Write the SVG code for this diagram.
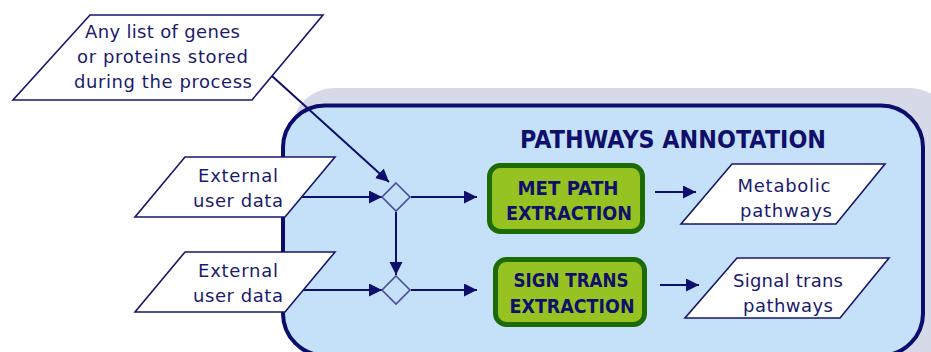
<svg xmlns="http://www.w3.org/2000/svg" width="931" height="352" viewBox="0 0 931 352">
  <style>
    .io { fill: #ffffff; stroke: #16166e; stroke-width: 1.6; stroke-linejoin: miter; }
    .txt { font-family: "DejaVu Sans", "Verdana", sans-serif; font-size: 18px; fill: #1a1a6e; text-anchor: middle; }
    .proc rect { fill: #96c322; stroke: #1d6b05; stroke-width: 5; }
    .ptxt { font-family: "DejaVu Sans", "Verdana", sans-serif; font-weight: bold; font-size: 20px; fill: #10106a; text-anchor: middle; }
    .gate { fill: #c5e1fa; stroke: #4a4c98; stroke-width: 1.6; }
    .conn { stroke: #0e0e6c; stroke-width: 2; fill: none; }
  </style>
  <defs>
    <marker id="arrow" markerUnits="userSpaceOnUse" markerWidth="14" markerHeight="14" refX="13" refY="6.5" orient="auto">
      <path d="M0,0 L13,6.5 L0,13 z" fill="#0e0e6c"/>
    </marker>
  </defs>

  <rect width="931" height="352" fill="#ffffff"/>

  <!-- container: shadow then panel -->
  <g id="pathways-annotation">
    <rect x="292" y="88" width="660" height="280" rx="42" fill="#d6dae8"/>
    <rect x="283" y="105.5" width="640" height="250" rx="42" fill="#c5e1fa" stroke="#0c0c6c" stroke-width="4"/>
    <text x="673" y="148" font-family="DejaVu Sans, Verdana, sans-serif" font-weight="bold" font-size="25" fill="#10106a" text-anchor="middle" textLength="306" lengthAdjust="spacingAndGlyphs">PATHWAYS ANNOTATION</text>
  </g>

  <!-- connectors -->
  <g id="connectors">
    <line class="conn" x1="272" y1="76" x2="389" y2="182" stroke-width="1.6" marker-end="url(#arrow)"/>
    <line class="conn" x1="300" y1="197" x2="382" y2="197" marker-end="url(#arrow)"/>
    <line class="conn" x1="411" y1="197" x2="477" y2="197" marker-end="url(#arrow)"/>
    <line class="conn" x1="396" y1="212" x2="396" y2="275" marker-end="url(#arrow)"/>
    <line class="conn" x1="300" y1="290" x2="382" y2="290" marker-end="url(#arrow)"/>
    <line class="conn" x1="411" y1="290" x2="477" y2="290" marker-end="url(#arrow)"/>
    <line class="conn" x1="655" y1="192" x2="696" y2="192" marker-end="url(#arrow)"/>
    <line class="conn" x1="660" y1="285" x2="699" y2="285" marker-end="url(#arrow)"/>
  </g>

  <g id="stored-lists">
    <polygon class="io" points="90,15 323,15 252,100 13,100"/>
    <text class="txt" x="162.5" y="38" textLength="155">Any list of genes</text>
    <text class="txt" x="162.5" y="63" textLength="171">or proteins stored</text>
    <text class="txt" x="163" y="88" textLength="178">during the process</text>
  </g>

  <g id="external-data-1">
    <polygon class="io" points="185,157 335,157 285,217 135,217"/>
    <text class="txt" x="238" y="182" textLength="80">External</text>
    <text class="txt" x="238" y="207" textLength="90">user data</text>
  </g>

  <g id="external-data-2">
    <polygon class="io" points="185,252 335,252 285,312 135,312"/>
    <text class="txt" x="238" y="277" textLength="80">External</text>
    <text class="txt" x="238" y="302" textLength="90">user data</text>
  </g>

  <g id="merge-1">
    <polygon class="gate" points="396,183 410,197 396,211 382,197"/>
  </g>

  <g id="merge-2">
    <polygon class="gate" points="396,276 410,290 396,304 382,290"/>
  </g>

  <g id="met-path-extraction" class="proc">
    <rect x="489.5" y="165.5" width="153" height="66" rx="11"/>
    <text class="ptxt" x="568" y="195" textLength="101" lengthAdjust="spacingAndGlyphs">MET PATH</text>
    <text class="ptxt" x="569" y="220" textLength="126" lengthAdjust="spacingAndGlyphs">EXTRACTION</text>
  </g>

  <g id="sign-trans-extraction" class="proc">
    <rect x="495.5" y="259.5" width="149" height="65" rx="11"/>
    <text class="ptxt" x="571" y="287" textLength="115" lengthAdjust="spacingAndGlyphs">SIGN TRANS</text>
    <text class="ptxt" x="572" y="313" textLength="125" lengthAdjust="spacingAndGlyphs">EXTRACTION</text>
  </g>

  <g id="metabolic-pathways">
    <polygon class="io" points="732,164 885,164 836,224 681,224"/>
    <text class="txt" x="784" y="192" textLength="93">Metabolic</text>
    <text class="txt" x="786" y="217" textLength="92">pathways</text>
  </g>

  <g id="signal-trans-pathways">
    <polygon class="io" points="737,258 889,258 840,318 685,318"/>
    <text class="txt" x="788" y="287" textLength="110">Signal trans</text>
    <text class="txt" x="788" y="312" textLength="90">pathways</text>
  </g>
</svg>
